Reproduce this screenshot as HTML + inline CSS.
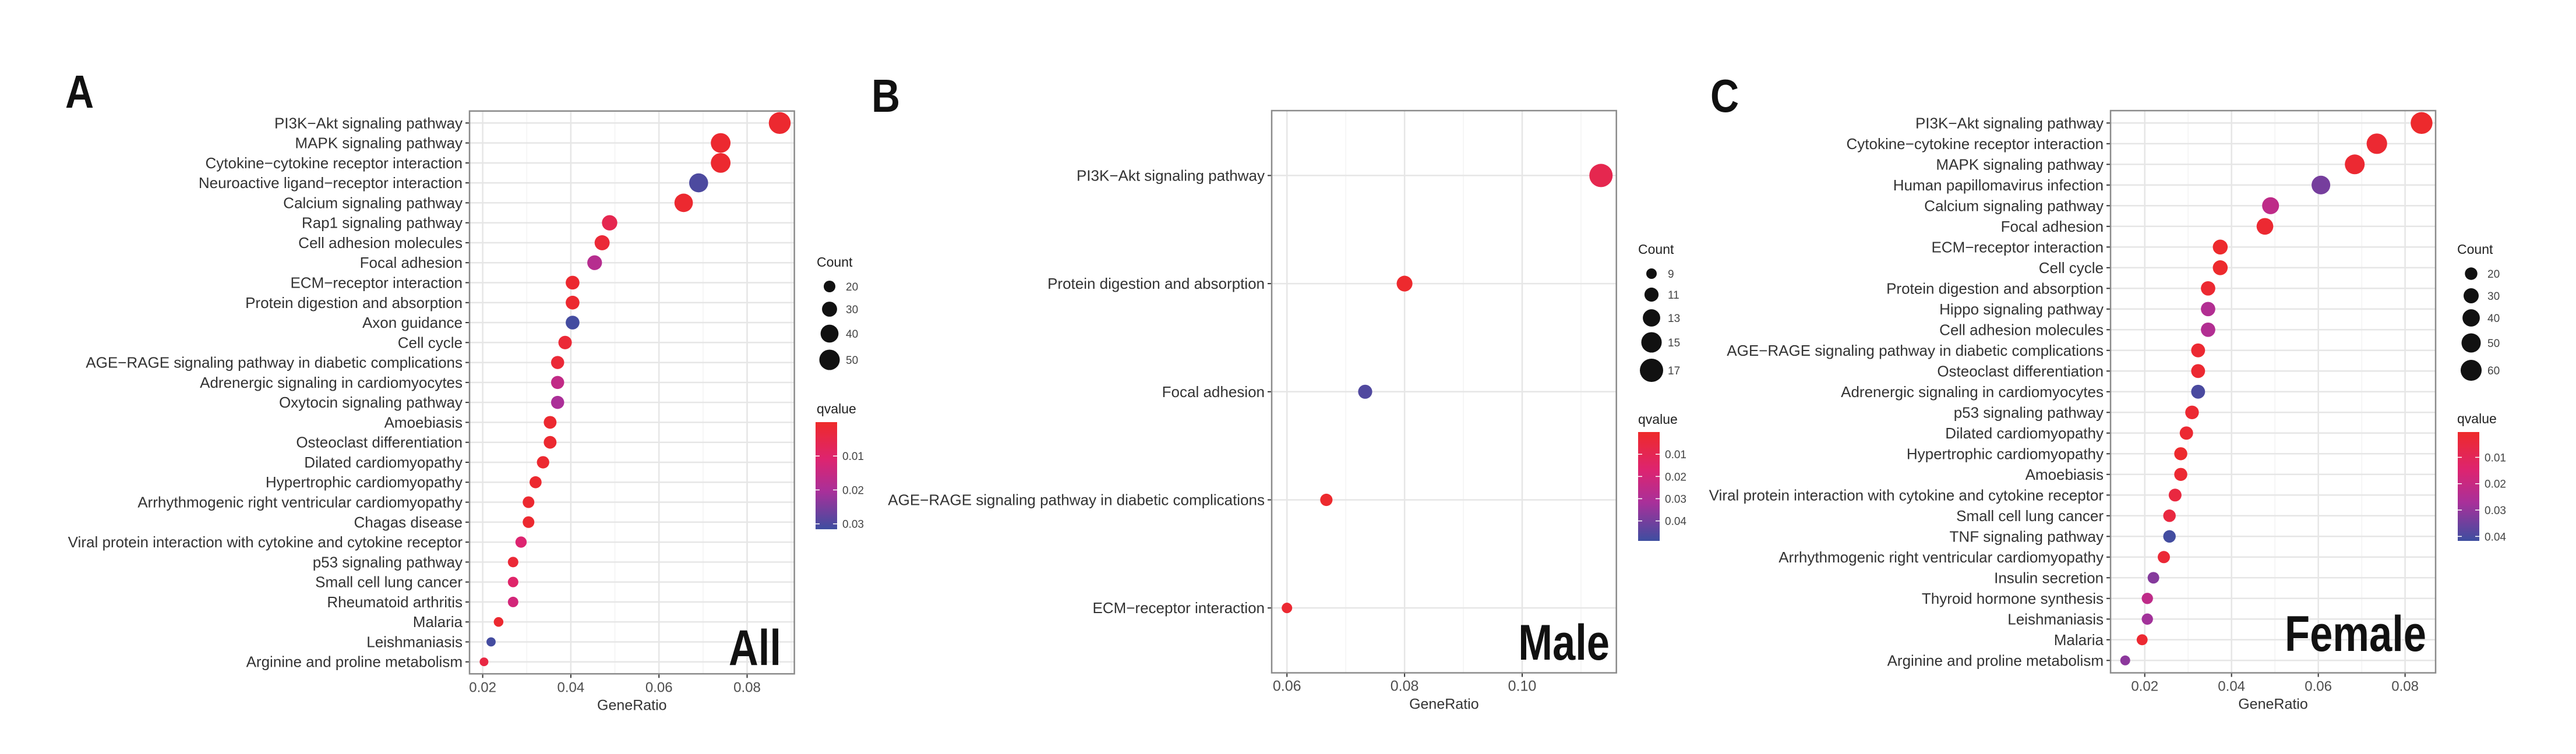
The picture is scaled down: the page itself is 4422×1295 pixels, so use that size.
<!DOCTYPE html>
<html><head><meta charset="utf-8"><style>
html,body{margin:0;padding:0;background:#fff;}
svg{display:block;font-family:"Liberation Sans",Arial,sans-serif;}
</style></head><body>
<svg id="fig" width="4422" height="1295" viewBox="0 0 4422 1295" xmlns="http://www.w3.org/2000/svg">
<defs>
<linearGradient id="qgrad" x1="0" y1="0" x2="0" y2="1">
<stop offset="0" stop-color="#EE2A2A"/><stop offset="0.35" stop-color="#DD2470"/><stop offset="0.65" stop-color="#A8309A"/><stop offset="1" stop-color="#3E4EA0"/>
</linearGradient>
</defs>
<text x="112" y="185" font-size="80" font-weight="bold" fill="#111" transform="translate(112 0) scale(0.85 1) translate(-112 0)">A</text>
<text x="1496" y="192" font-size="80" font-weight="bold" fill="#111" transform="translate(1496 0) scale(0.85 1) translate(-1496 0)">B</text>
<text x="2936" y="192" font-size="80" font-weight="bold" fill="#111" transform="translate(2936 0) scale(0.85 1) translate(-2936 0)">C</text>
</svg>
<script>
const aTerms=["PI3K-Akt signaling pathway","MAPK signaling pathway","Cytokine-cytokine receptor interaction","Neuroactive ligand-receptor interaction","Calcium signaling pathway","Rap1 signaling pathway","Cell adhesion molecules","Focal adhesion","ECM-receptor interaction","Protein digestion and absorption","Axon guidance","Cell cycle","AGE-RAGE signaling pathway in diabetic complications","Adrenergic signaling in cardiomyocytes","Oxytocin signaling pathway","Amoebiasis","Osteoclast differentiation","Dilated cardiomyopathy","Hypertrophic cardiomyopathy","Arrhythmogenic right ventricular cardiomyopathy","Chagas disease","Viral protein interaction with cytokine and cytokine receptor","p53 signaling pathway","Small cell lung cancer","Rheumatoid arthritis","Malaria","Leishmaniasis","Arginine and proline metabolism"];
const aRatio=[0.0874,0.074,0.074,0.069,0.0656,0.0488,0.0471,0.0454,0.0404,0.0404,0.0404,0.0387,0.037,0.037,0.037,0.0353,0.0353,0.0337,0.032,0.0304,0.0304,0.0287,0.0269,0.0269,0.0269,0.0236,0.0219,0.0203];
const aCount=[56,47,47,44,42,31,30,29,26,26,26,25,24,24,24,23,23,22,21,20,20,19,17,17,17,15,14,13];
const aQ=[0.001,0.001,0.001,0.030,0.001,0.006,0.002,0.018,0.001,0.001,0.031,0.002,0.002,0.016,0.020,0.001,0.001,0.001,0.001,0.001,0.001,0.011,0.002,0.010,0.013,0.001,0.031,0.004];
const aXTicks=[0.02,0.04,0.06,0.08];
const aSizeLegend=[20,30,40,50];
const aQTicks=[0.01,0.02,0.03];

const bTerms=["PI3K-Akt signaling pathway","Protein digestion and absorption","Focal adhesion","AGE-RAGE signaling pathway in diabetic complications","ECM-receptor interaction"];
const bRatio=[0.1134,0.080,0.0733,0.0667,0.060];
const bCount=[17,12,11,10,9];
const bQ=[0.009,0.001,0.046,0.001,0.002];
const bXTicks=[0.06,0.08,0.10];
const bSizeLegend=[9,11,13,15,17];
const bQTicks=[0.01,0.02,0.03,0.04];

const cTerms=["PI3K-Akt signaling pathway","Cytokine-cytokine receptor interaction","MAPK signaling pathway","Human papillomavirus infection","Calcium signaling pathway","Focal adhesion","ECM-receptor interaction","Cell cycle","Protein digestion and absorption","Hippo signaling pathway","Cell adhesion molecules","AGE-RAGE signaling pathway in diabetic complications","Osteoclast differentiation","Adrenergic signaling in cardiomyocytes","p53 signaling pathway","Dilated cardiomyopathy","Hypertrophic cardiomyopathy","Amoebiasis","Viral protein interaction with cytokine and cytokine receptor","Small cell lung cancer","TNF signaling pathway","Arrhythmogenic right ventricular cardiomyopathy","Insulin secretion","Thyroid hormone synthesis","Leishmaniasis","Malaria","Arginine and proline metabolism"];
const cRatio=[0.0838,0.0735,0.0684,0.0606,0.049,0.0477,0.0374,0.0374,0.0346,0.0346,0.0346,0.0323,0.0323,0.0323,0.0309,0.0296,0.0283,0.0283,0.027,0.0257,0.0257,0.0244,0.022,0.0206,0.0206,0.0194,0.0155];
const cCount=[65,57,53,47,38,37,29,29,27,27,27,25,25,25,24,23,22,22,21,20,20,19,17,16,16,15,12];
const cQ=[0.001,0.002,0.002,0.034,0.022,0.002,0.001,0.001,0.002,0.025,0.025,0.002,0.002,0.040,0.002,0.002,0.001,0.002,0.005,0.005,0.041,0.003,0.032,0.022,0.028,0.002,0.031];
const cXTicks=[0.02,0.04,0.06,0.08];
const cSizeLegend=[20,30,40,50,60];
const cQTicks=[0.01,0.02,0.03,0.04];

const NS="http://www.w3.org/2000/svg";
const svg=document.getElementById('fig');
function mk(tag,attrs,parent){const e=document.createElementNS(NS,tag);for(const k in attrs)e.setAttribute(k,attrs[k]);(parent||svg).appendChild(e);return e;}
const stops=[[0,[238,42,42]],[0.35,[221,36,112]],[0.65,[168,48,154]],[1,[62,78,160]]];
function qColor(f){f=Math.max(0,Math.min(1,f));for(let i=1;i<stops.length;i++){if(f<=stops[i][0]){const a=stops[i-1],b=stops[i];const t=(f-a[0])/(b[0]-a[0]);const c=a[1].map((v,j)=>Math.round(v+(b[1][j]-v)*t));return `rgb(${c.join(',')})`;}}return 'rgb(62,78,160)';}

function drawPanel(P){
  const g=mk('g',{});
  
  
  const [L,T,R,B]=P.box;
  const xs=v=>P.x0+(v-P.t0)*(P.x1-P.x0)/(P.t1-P.t0);
  const n=P.terms.length;
  const step=(B-T)/(n-1+1.2);
  const ys=i=>T+(0.6+i)*step;
  const cmin=Math.min(...P.count),cmax=Math.max(...P.count);
  const dia=c=>P.d0+(Math.sqrt(c)-Math.sqrt(cmin))/(Math.sqrt(cmax)-Math.sqrt(cmin))*(P.d1-P.d0);
  const qc=q=>qColor((q-P.qmin)/(P.qmax-P.qmin));
  mk('rect',{x:L,y:T,width:R-L,height:B-T,fill:'#fff'},g);
  const dt=P.ticks[1]-P.ticks[0];
  for(let k=-1;k<=P.ticks.length;k++){const v=P.ticks[0]+(k+0.5)*dt;const x=xs(v);if(x>L&&x<R){const ln=mk('line',{x1:x,x2:x,y1:T,y2:B,stroke:'#f3f3f3','stroke-width':1.5},g);}}
  P.ticks.forEach(v=>{const x=xs(v);const ln=mk('line',{x1:x,x2:x,y1:T,y2:B,stroke:'#e6e6e6','stroke-width':2.5},g);
    mk('line',{x1:x,x2:x,y1:B,y2:B+7,stroke:'#333','stroke-width':2},g);
    const t=mk('text',{x:x,y:B+31,'font-size':P.tickFs,'text-anchor':'middle',fill:'#4d4d4d'},g);t.textContent=v.toFixed(2);
    });
  P.terms.forEach((term,i)=>{const y=ys(i);
    const ln=mk('line',{x1:L,x2:R,y1:y,y2:y,stroke:'#e6e6e6','stroke-width':2.5},g);
    mk('line',{x1:L-7,x2:L,y1:y,y2:y,stroke:'#333','stroke-width':2},g);
    const t=mk('text',{x:L-12,y:y+9,'font-size':26,'text-anchor':'end',fill:'#333'},g);t.textContent=term.replace(/-/g,'\u2212');
    });
  P.terms.forEach((term,i)=>{const c=mk('circle',{cx:xs(P.ratio[i]),cy:ys(i),r:dia(P.count[i])/2,fill:qc(P.q[i])},g);
    
    });
  mk('rect',{x:L,y:T,width:R-L,height:B-T,fill:'none',stroke:'#8a8a8a','stroke-width':2.5},g);
  const gt=mk('text',{x:(L+R)/2,y:B+62,'font-size':25,'text-anchor':'middle',fill:'#333'},g);gt.textContent='GeneRatio';
  
  const bt=mk('text',{x:P.big[0],y:P.big[1],'font-size':86,'font-weight':'bold','text-anchor':'end',fill:'#111',transform:`translate(${P.big[0]} 0) scale(0.82 1) translate(${-P.big[0]} 0)`},g);bt.textContent=P.bigText;
  
  const ct=mk('text',{x:P.leg.x,y:P.leg.titleY,'font-size':23,fill:'#222'},g);ct.textContent='Count';
  
  P.sizeLegend.forEach((c,i)=>{const y=P.leg.dotY[i];
    const d=mk('circle',{cx:P.leg.dotX,cy:y,r:dia(c)/2,fill:'#111'},g);
    const t=mk('text',{x:P.leg.dotX+28,y:y+7,'font-size':19,fill:'#444'},g);t.textContent=c;});
  const qt=mk('text',{x:P.leg.x,y:P.cb.titleY,'font-size':23,fill:'#222'},g);qt.textContent='qvalue';
  
  const cbr=mk('rect',{x:P.cb.x,y:P.cb.y0,width:37,height:P.cb.y1-P.cb.y0,fill:'url(#qgrad)'},g);
  
  const qy=q=>P.cb.y0+(q-P.qmin)/(P.qmax-P.qmin)*(P.cb.y1-P.cb.y0);
  P.qTicks.forEach(q=>{const y=qy(q);
    mk('line',{x1:P.cb.x,x2:P.cb.x+7,y1:y,y2:y,stroke:'#fff','stroke-width':1.5},g);
    mk('line',{x1:P.cb.x+30,x2:P.cb.x+37,y1:y,y2:y,stroke:'#fff','stroke-width':1.5},g);
    const t=mk('text',{x:P.cb.x+46,y:y+7,'font-size':19,fill:'#444'},g);t.textContent=q.toFixed(2);
    });
}
drawPanel({id:'all',terms:aTerms,ratio:aRatio,count:aCount,q:aQ,ticks:aXTicks,sizeLegend:aSizeLegend,qTicks:aQTicks,
  box:[806,190.7,1363.6,1157.3],t0:0.02,x0:828.6,t1:0.08,x1:1282.5,d0:15,d1:37.5,qmin:0,qmax:0.0316,tickFs:24,
  big:[1341,1142],bigText:'All',
  leg:{x:1402,titleY:458,dotX:1424,dotY:[492,531,573,618]},cb:{x:1400,y0:725,y1:909,titleY:710}});
drawPanel({id:'male',terms:bTerms,ratio:bRatio,count:bCount,q:bQ,ticks:bXTicks,sizeLegend:bSizeLegend,qTicks:bQTicks,
  box:[2183,190,2774.7,1155.6],t0:0.06,x0:2209.2,t1:0.10,x1:2613,d0:18,d1:40,qmin:0,qmax:0.049,tickFs:25,
  big:[2763,1133],bigText:'Male',
  leg:{x:2812,titleY:436,dotX:2835,dotY:[470,506,546,588,636]},cb:{x:2812,y0:742,y1:929,titleY:728}});
drawPanel({id:'female',terms:cTerms,ratio:cRatio,count:cCount,q:cQ,ticks:cXTicks,sizeLegend:cSizeLegend,qTicks:cQTicks,
  box:[3623,190,4181,1155.6],t0:0.02,x0:3681.7,t1:0.08,x1:4128.6,d0:17,d1:37.5,qmin:0.0004,qmax:0.0417,tickFs:24,
  big:[4165,1118],bigText:'Female',
  leg:{x:4218,titleY:436,dotX:4242,dotY:[470,508,546,589,636]},cb:{x:4219,y0:742,y1:929,titleY:727}});
</script>
</body></html>
